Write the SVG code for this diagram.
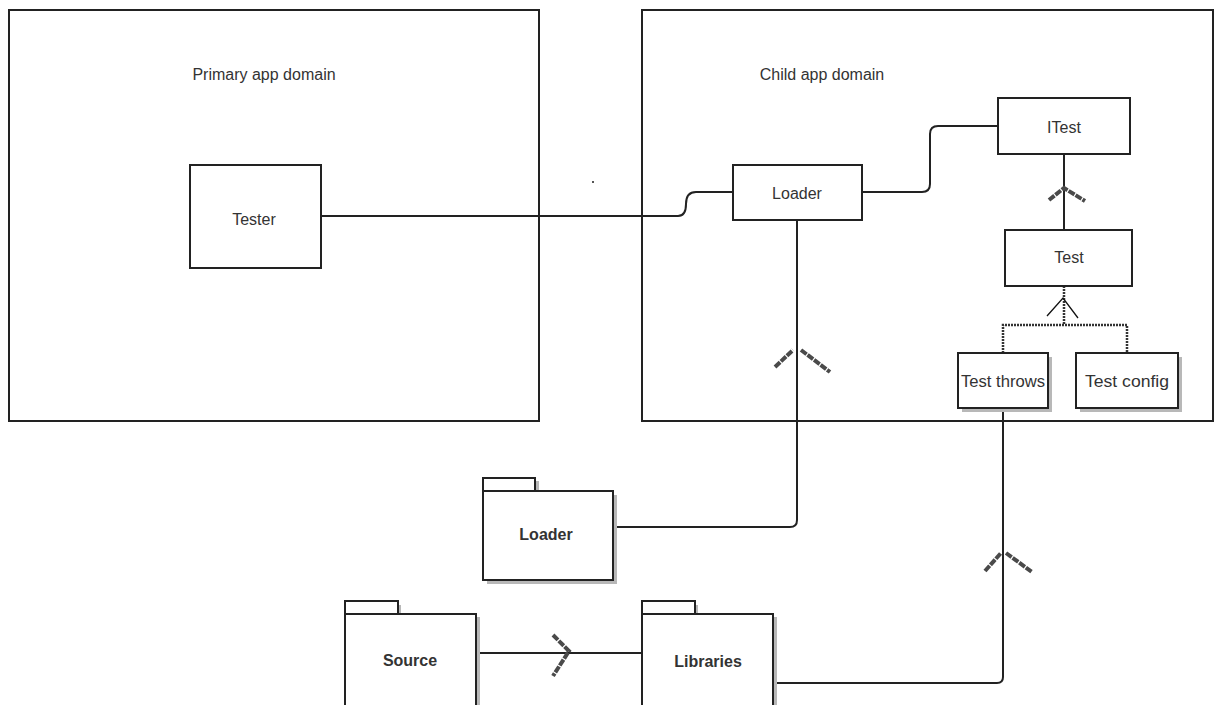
<svg xmlns="http://www.w3.org/2000/svg" width="1216" height="705" viewBox="0 0 1216 705">
<style>
.box{fill:#fff;stroke:#222;stroke-width:2}
.sh{fill:#b8b8b8}
.lbl{font-family:"Liberation Sans",Arial,sans-serif;font-size:16px;fill:#333;text-anchor:middle}
.b{font-weight:bold}
.ln{fill:none;stroke:#222;stroke-width:2}
.arr{fill:none;stroke:#4a4a4a;stroke-width:4;stroke-dasharray:7 1.2}
</style>
<rect width="1216" height="705" fill="#fff"/>
<g id="primary">
<rect class="box" x="9" y="10" width="530" height="411"/>
<text class="lbl" x="264" y="80">Primary app domain</text>
</g>
<g id="child">
<rect class="box" x="642" y="10" width="571" height="411"/>
<text class="lbl" x="822" y="80">Child app domain</text>
</g>
<rect x="592" y="181" width="2" height="2" fill="#555"/>
<g id="connectors">
<path class="ln" d="M321,216 H678 Q686,216 686,204 Q686,192 696,192 H733"/>
<path class="ln" d="M862,192 H922 Q930,192 930,184 V134 Q930,126 938,126 H998"/>
<path class="ln" d="M797,220 V520 Q797,527 790,527 H612"/>
<path class="ln" d="M1064,154 V230"/>
<path d="M1064,286 V325 M1003,353 V325 H1127 V353" fill="none" stroke="#333" stroke-width="2.5" stroke-dasharray="2 1"/>
<path class="ln" d="M1003,408 V677 Q1003,683 997,683 H775"/>
<path class="ln" d="M477,653 H642"/>
<path class="arr" d="M775,367 L793,350 M801,350 L830,372"/>
<path class="arr" d="M1049,200 L1064,188 L1085,201"/>
<path d="M1047,316 L1063,298 L1078,318" fill="none" stroke="#111" stroke-width="1.3"/>
<path class="arr" d="M985,571 L1001,553 M1006,553 L1032,572"/>
<path class="arr" d="M553,635 L569,651 L553,676"/>
</g>
<g id="tester">
<rect class="box" x="190" y="165" width="131" height="103"/>
<text class="lbl" x="254" y="225">Tester</text>
</g>
<g id="loader">
<rect class="box" x="733" y="165" width="129" height="55"/>
<text class="lbl" x="797" y="199">Loader</text>
</g>
<g id="itest">
<rect class="box" x="998" y="98" width="132" height="56"/>
<text class="lbl" x="1064" y="133">ITest</text>
</g>
<g id="test">
<rect class="box" x="1005" y="230" width="127" height="56"/>
<text class="lbl" x="1069" y="263">Test</text>
</g>
<g id="testthrows">
<rect class="sh" x="962" y="357" width="90" height="55"/>
<rect class="box" x="958" y="353" width="90" height="55"/>
<text class="lbl" x="1003" y="387" textLength="84" lengthAdjust="spacingAndGlyphs">Test throws</text>
</g>
<g id="testconfig">
<rect class="sh" x="1080" y="357" width="102" height="55"/>
<rect class="box" x="1076" y="353" width="102" height="55"/>
<text class="lbl" x="1127" y="387" textLength="84" lengthAdjust="spacingAndGlyphs">Test config</text>
</g>
<g id="pkg-loader">
<rect class="sh" x="487" y="495" width="130" height="89"/>
<rect class="sh" x="487" y="481" width="52" height="14"/>
<rect class="box" x="483" y="478" width="52" height="13"/>
<rect class="box" x="483" y="491" width="130" height="89"/>
<text class="lbl b" x="546" y="540">Loader</text>
</g>
<g id="pkg-source">
<rect class="sh" x="349" y="605" width="52" height="12"/>
<rect class="sh" x="349" y="617" width="131" height="92"/>
<rect class="box" x="345" y="601" width="53" height="13"/>
<rect class="box" x="345" y="614" width="131" height="92"/>
<text class="lbl b" x="410" y="666">Source</text>
</g>
<g id="pkg-libraries">
<rect class="sh" x="646" y="605" width="52" height="12"/>
<rect class="sh" x="646" y="617" width="131" height="92"/>
<rect class="box" x="642" y="601" width="53" height="13"/>
<rect class="box" x="642" y="614" width="131" height="92"/>
<text class="lbl b" x="708" y="667">Libraries</text>
</g>
</svg>
